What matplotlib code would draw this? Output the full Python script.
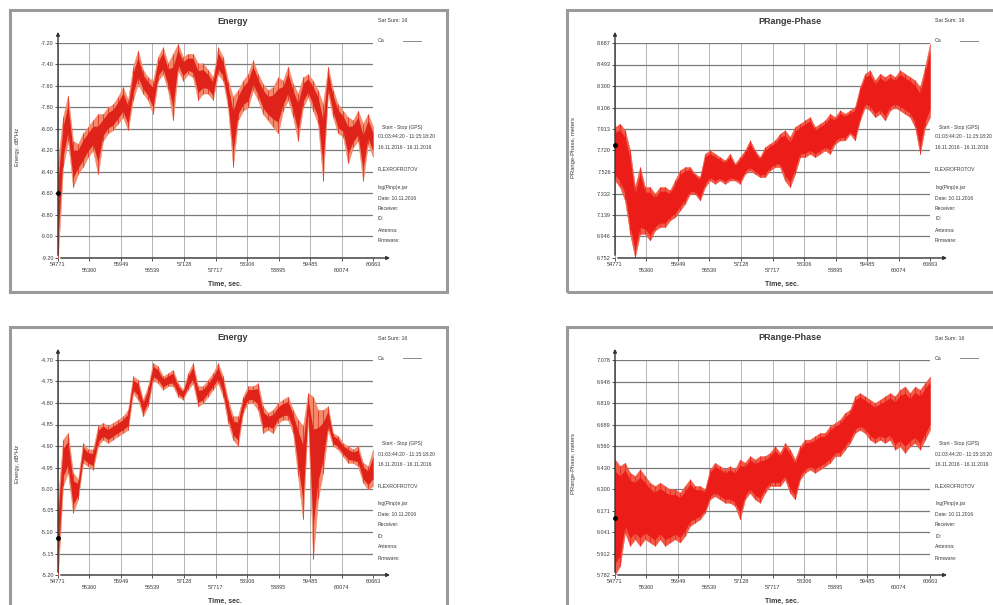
import numpy as np
import matplotlib
matplotlib.use("Agg")
import matplotlib.pyplot as plt
from matplotlib.patches import Rectangle
from matplotlib.lines import Line2D

plt.rcParams["font.family"] = ["Liberation Sans", "DejaVu Sans"]

# time axis (sec)
t_start, t_stop = 54771, 60663
n_pts = 64

# --- Energy, upper panel (dB*Hz): upper / lower envelope of the noisy trace
en1_hi = [-8.30, -7.89, -7.69, -8.11, -8.14, -8.04, -7.98, -7.92, -7.86, -7.86,
          -7.80, -7.77, -7.70, -7.61, -7.73, -7.42, -7.27, -7.45, -7.52, -7.55,
          -7.33, -7.24, -7.39, -7.30, -7.21, -7.33, -7.30, -7.30, -7.39, -7.39,
          -7.45, -7.52, -7.24, -7.33, -7.55, -7.70, -7.64, -7.55, -7.49, -7.36,
          -7.49, -7.58, -7.64, -7.61, -7.52, -7.55, -7.42, -7.58, -7.67, -7.52,
          -7.49, -7.55, -7.64, -7.77, -7.42, -7.64, -7.77, -7.83, -7.89, -7.92,
          -7.83, -7.95, -7.86, -7.98]
en1_lo = [-9.20, -8.35, -8.11, -8.54, -8.42, -8.35, -8.26, -8.20, -8.42, -8.11,
          -8.04, -8.01, -7.95, -7.89, -8.01, -7.73, -7.58, -7.67, -7.73, -7.86,
          -7.55, -7.49, -7.64, -7.92, -7.45, -7.55, -7.49, -7.52, -7.73, -7.67,
          -7.67, -7.73, -7.49, -7.55, -7.80, -8.35, -7.92, -7.83, -7.80, -7.64,
          -7.73, -7.86, -7.92, -7.98, -8.04, -7.83, -7.73, -7.89, -8.11, -7.80,
          -7.70, -7.83, -7.95, -8.48, -7.67, -7.89, -8.04, -8.07, -8.32, -8.17,
          -8.11, -8.48, -8.14, -8.26]

# --- PRange-Phase, upper panel (meters)
pr1_hi = [7.93, 7.96, 7.90, 7.72, 7.39, 7.57, 7.39, 7.39, 7.33, 7.39,
          7.39, 7.36, 7.45, 7.54, 7.57, 7.57, 7.51, 7.48, 7.69, 7.72,
          7.69, 7.66, 7.63, 7.69, 7.60, 7.66, 7.72, 7.81, 7.72, 7.66,
          7.75, 7.78, 7.81, 7.87, 7.90, 7.84, 7.93, 7.96, 7.99, 8.02,
          7.93, 7.96, 7.99, 8.05, 8.02, 8.08, 8.05, 8.08, 8.11, 8.29,
          8.41, 8.44, 8.35, 8.41, 8.38, 8.41, 8.38, 8.44, 8.41, 8.38,
          8.35, 8.29, 8.47, 8.68]
pr1_lo = [7.45, 7.39, 7.27, 6.97, 6.76, 6.97, 6.97, 6.91, 7.00, 7.03,
          7.03, 7.09, 7.12, 7.18, 7.24, 7.33, 7.33, 7.27, 7.39, 7.45,
          7.42, 7.45, 7.42, 7.45, 7.45, 7.42, 7.51, 7.54, 7.51, 7.48,
          7.48, 7.54, 7.57, 7.57, 7.45, 7.39, 7.51, 7.66, 7.66, 7.69,
          7.66, 7.69, 7.72, 7.69, 7.78, 7.81, 7.81, 7.87, 7.81, 7.99,
          8.11, 8.08, 8.02, 8.05, 7.99, 8.08, 8.11, 8.08, 8.05, 8.02,
          7.93, 7.69, 7.93, 8.02]

# --- Energy, lower panel
en2_hi = [-5.024, -4.885, -4.870, -4.962, -4.978, -4.893, -4.908, -4.908, -4.854, -4.846,
          -4.854, -4.846, -4.839, -4.831, -4.816, -4.738, -4.746, -4.792, -4.761, -4.707,
          -4.715, -4.738, -4.731, -4.723, -4.754, -4.769, -4.731, -4.707, -4.761, -4.761,
          -4.746, -4.731, -4.707, -4.738, -4.792, -4.831, -4.831, -4.785, -4.761, -4.761,
          -4.754, -4.808, -4.823, -4.816, -4.800, -4.792, -4.785, -4.816, -4.839, -4.854,
          -4.777, -4.785, -4.816, -4.816, -4.808, -4.870, -4.877, -4.893, -4.900, -4.908,
          -4.900, -4.939, -4.947, -4.908]
en2_lo = [-5.200, -4.993, -4.962, -5.055, -5.024, -4.939, -4.947, -4.955, -4.900, -4.885,
          -4.893, -4.885, -4.877, -4.870, -4.862, -4.777, -4.792, -4.831, -4.808, -4.746,
          -4.754, -4.769, -4.761, -4.761, -4.785, -4.792, -4.769, -4.754, -4.808, -4.800,
          -4.785, -4.769, -4.754, -4.785, -4.846, -4.885, -4.900, -4.823, -4.800, -4.800,
          -4.816, -4.870, -4.862, -4.870, -4.846, -4.839, -4.839, -4.870, -4.970, -5.070,
          -4.831, -5.163, -5.024, -4.962, -4.862, -4.900, -4.908, -4.924, -4.939, -4.939,
          -4.947, -4.985, -5.001, -4.993]

# --- PRange-Phase, lower panel
pr2_hi = [6.478, 6.438, 6.458, 6.398, 6.378, 6.418, 6.378, 6.338, 6.318, 6.338,
          6.318, 6.298, 6.298, 6.278, 6.318, 6.358, 6.318, 6.318, 6.298, 6.418,
          6.458, 6.438, 6.418, 6.438, 6.418, 6.478, 6.458, 6.498, 6.478, 6.498,
          6.498, 6.518, 6.558, 6.518, 6.578, 6.538, 6.478, 6.558, 6.598, 6.598,
          6.618, 6.638, 6.638, 6.678, 6.698, 6.718, 6.758, 6.778, 6.858, 6.878,
          6.858, 6.838, 6.818, 6.838, 6.858, 6.878, 6.858, 6.898, 6.918, 6.878,
          6.918, 6.898, 6.938, 6.978]
pr2_lo = [5.782, 5.838, 6.038, 5.958, 5.998, 5.958, 5.998, 5.978, 5.958, 5.998,
          5.958, 5.978, 5.998, 5.978, 6.018, 6.078, 6.098, 6.118, 6.158, 6.238,
          6.258, 6.238, 6.218, 6.218, 6.198, 6.118, 6.238, 6.278, 6.238, 6.218,
          6.278, 6.318, 6.318, 6.318, 6.358, 6.278, 6.238, 6.358, 6.398, 6.418,
          6.398, 6.418, 6.438, 6.458, 6.498, 6.498, 6.538, 6.578, 6.638, 6.658,
          6.638, 6.598, 6.578, 6.598, 6.578, 6.598, 6.538, 6.558, 6.518, 6.558,
          6.578, 6.538, 6.598, 6.658]

# axis ranges and the start marker on the y axis
y_ranges = [(-9.2, -7.2), (6.752, 8.687), (-5.2, -4.7), (5.782, 7.078)]
start_marks = [-8.60, 7.766, -5.114, 6.128]
titles = ["Energy", "PRange-Phase", "Energy", "PRange-Phase"]
ylabels = ["Energy, dB*Hz", "PRange-Phase, meters", "Energy, dB*Hz", "PRange-Phase, meters"]
y_fmt = ["{:.2f}", "{:.3f}", "{:.2f}", "{:.3f}"]

info_lines = [("Start - Stop (GPS)", 127, 4), ("01:03:44:20 - 11:15:18:20", 137, 0),
              ("16.11.2016 - 16.11.2016", 148, 0), ("FLEXROFROTOV", 170, 0),
              ("Ing(Pinp)e.jar", 187, 0), ("Date: 10.11.2016", 198, 0),
              ("Receiver:", 208, 0), ("ID:", 219, 0), ("Antenna:", 230, 0),
              ("Firmware:", 241, 0)]

W, H = 993, 605


def fx(px):
    return px / W


def fy(py):
    return 1 - py / H


fig = plt.figure(figsize=(W / 100, H / 100), dpi=100)
fig.patch.set_facecolor("white")

series = [(en1_hi, en1_lo), (pr1_hi, pr1_lo), (en2_hi, en2_lo), (pr2_hi, pr2_lo)]
offsets = [(0, 0), (557, 0), (0, 317), (557, 317)]
t = np.linspace(t_start, t_stop, n_pts)
xticks = np.linspace(t_start, t_stop, 11)
txt = "#3a3a3a"

for k, ((hi, lo), (ox, oy)) in enumerate(zip(series, offsets)):
    hi = np.array(hi)
    lo = np.array(lo)
    is_energy = k % 2 == 0

    # grey frame round each panel
    fig.add_artist(Rectangle((fx(10 + ox), fy(10 + oy + 282 + (300 if oy else 0))),
                             (437 + (100 if ox else 0)) / W,
                             (282 + (300 if oy else 0)) / H,
                             transform=fig.transFigure, fill=False,
                             ec="#9a9a9a", lw=2.2))

    ax = fig.add_axes([fx(58 + ox), fy(258 + oy), 315 / W, 215 / H])
    y0, y1 = y_ranges[k]
    ax.set_xlim(t_start, t_stop)
    ax.set_ylim(y0, y1)

    # noisy band: light fringe + saturated core
    mid = (hi + lo) / 2
    half = (hi - lo) / 2
    if is_energy:
        fringe, core, shrink = "#f48a6c", "#e0231a", 0.6
    else:
        fringe, core, shrink = "#f25a48", "#ec1c19", 0.8
    ax.fill_between(t, lo, hi, color=fringe, lw=0.4, ec=fringe, zorder=2)
    ax.fill_between(t, mid - shrink * half, mid + shrink * half,
                    color=core, lw=0, zorder=3)
    ax.vlines(t, lo, hi, color=core, lw=0.5, zorder=3)

    yticks = np.linspace(y0, y1, 11)
    ax.set_yticks(yticks)
    ax.set_yticklabels([y_fmt[k].format(v) for v in yticks])
    ax.set_xticks(xticks)
    ax.set_xticklabels([("\n" if i % 2 else "") + f"{v:.0f}" for i, v in enumerate(xticks)])
    ax.tick_params(labelsize=4, colors=txt, length=2, width=0.6, pad=1)
    for s in ax.spines.values():
        s.set_visible(False)
    ax.grid(axis="y", color="#7a7a7a", lw=0.9, zorder=1)
    ax.grid(axis="x", color="#b4b4b4", lw=0.7, zorder=1)
    ax.set_axisbelow(True)

    # axis lines with arrow heads
    ax.annotate("", xy=(0, 1.065), xytext=(0, 0), xycoords="axes fraction",
                arrowprops=dict(arrowstyle="-|>", color="#333333", lw=1.0,
                                mutation_scale=5), annotation_clip=False)
    ax.annotate("", xy=(1.063, 0), xytext=(0, 0), xycoords="axes fraction",
                arrowprops=dict(arrowstyle="-|>", color="#333333", lw=1.0,
                                mutation_scale=5), annotation_clip=False)
    ax.plot([t_start], [start_marks[k]], "o", color="black", ms=2.5,
            clip_on=False, zorder=5)

    fig.text(fx(233 + ox), fy(21 + oy), titles[k], ha="center", va="center",
             fontsize=6.5, fontweight="bold", color=txt)
    fig.text(fx(17 + ox), fy(147 + oy), ylabels[k], rotation=90, ha="center",
             va="center", fontsize=4.2, color=txt)
    fig.text(fx(225 + ox), fy(284 + oy), "Time, sec.", ha="center",
             va="center", fontsize=5, fontweight="bold", color=txt)

    # side legend / info block
    fig.text(fx(378 + ox), fy(21 + oy), "Sat Sum: 16", va="center",
             fontsize=3.8, color=txt)
    fig.text(fx(378 + ox), fy(41 + oy), "Ca", va="center", fontsize=3.8, color=txt)
    fig.add_artist(Line2D([fx(403 + ox), fx(421 + ox)], [fy(41 + oy)] * 2,
                          color="#8a8a8a", lw=0.7, transform=fig.transFigure))
    for line, py, dx in info_lines:
        fig.text(fx(378 + ox + dx), fy(py + oy), line, va="center",
                 fontsize=3.6, color=txt)

fig.savefig("out.png", dpi=100)
